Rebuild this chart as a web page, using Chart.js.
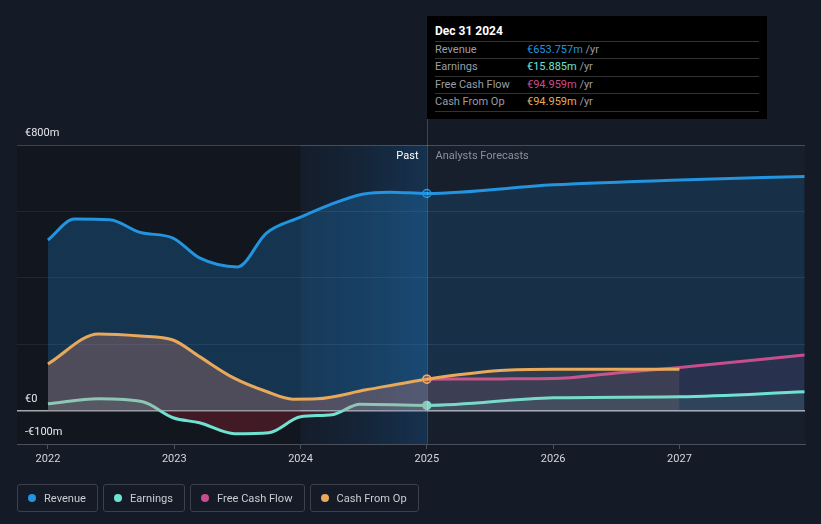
<!DOCTYPE html>
<html>
<head>
<meta charset="utf-8">
<script src="https://cdn.jsdelivr.net/npm/chart.js@4/dist/chart.umd.min.js"></script>
<style>
  html, body { margin: 0; padding: 0; background: #151b26; }
  body { width: 821px; height: 524px; position: relative; overflow: hidden; font-family: Roboto, "Noto Sans", sans-serif; }
  #wrap { position: absolute; left: 0; top: 0; width: 821px; height: 524px; }
  #tip { position: absolute; left: 427px; top: 16px; width: 340px; height: 103px; background: #000; box-sizing: border-box; padding: 8px 8px 0 8px; }
  #tip .title { color: #fff; font-size: 12px; font-weight: bold; height: 17px; line-height: 14px; border-bottom: 1px solid #333; }
  #tip .row { height: 16.4px; line-height: 16.4px; font-size: 11px; color: #9a9ea6; border-bottom: 1px solid #333; position: relative; }
  #tip .row span.v { position: absolute; left: 92px; }
  #tip .row span.u { color: #9a9ea6; }
  #legend { position: absolute; left: 17px; top: 484px; display: flex; gap: 5px; }
  #legend .item { height: 26px; border: 1px solid #3b404b; border-radius: 3px; box-sizing: content-box; padding: 0 11px 0 10px; display: flex; align-items: center; font-size: 11.1px; color: #c9ccd2; }
  #legend .dot { width: 8px; height: 8px; border-radius: 50%; margin-right: 8px; }
</style>
</head>
<body>
<div id="wrap"><canvas id="chart" width="821" height="524"></canvas></div>
<div id="tip">
  <div class="title">Dec 31 2024</div>
  <div class="row">Revenue<span class="v"><span style="color:#2394df">€653.757m</span> <span class="u">/yr</span></span></div>
  <div class="row">Earnings<span class="v"><span style="color:#6fe3d2">€15.885m</span> <span class="u">/yr</span></span></div>
  <div class="row">Free Cash Flow<span class="v"><span style="color:#c84d8c">€94.959m</span> <span class="u">/yr</span></span></div>
  <div class="row">Cash From Op<span class="v"><span style="color:#e8a95a">€94.959m</span> <span class="u">/yr</span></span></div>
</div>
<div id="legend">
  <div class="item"><span class="dot" style="background:#2394df"></span>Revenue</div>
  <div class="item"><span class="dot" style="background:#6fe3d2"></span>Earnings</div>
  <div class="item"><span class="dot" style="background:#c84d8c"></span>Free Cash Flow</div>
  <div class="item"><span class="dot" style="background:#e8a95a"></span>Cash From Op</div>
</div>
<script>
// values in € millions, x in fractional years
const revYears = [2022.0, 2022.21, 2022.49, 2022.73, 2022.99, 2023.2, 2023.5, 2023.73, 2024.0, 2024.23, 2024.49, 2024.71, 2025.0, 2026.0, 2027.0, 2027.99];
const revenue  = [514, 577, 575, 537, 520, 460, 433, 535, 583, 620, 652, 658, 654, 680, 695, 705];

const earnYears = [2022.0, 2022.4, 2022.75, 2022.99, 2023.2, 2023.48, 2023.75, 2024.0, 2024.25, 2024.47, 2025.0, 2026.0, 2027.0, 2027.99];
const earnings  = [21, 36, 27, -21, -36, -69, -66, -18, -12, 20, 16, 39, 42, 57];

const fcfYears = [2025.0, 2025.6, 2026.0, 2026.5, 2027.0, 2027.99];
const freeCashFlow = [95, 96, 97, 114, 130, 168];

const cfoYears = [2022.0, 2022.4, 2022.73, 2022.99, 2023.2, 2023.47, 2023.73, 2023.94, 2024.13, 2024.52, 2025.0, 2025.58, 2026.0, 2027.0];
const cashFromOp = [141, 231, 225, 213, 163, 99, 58, 35, 36, 63, 95, 121, 125, 125];

const yearTicks = [2022, 2023, 2024, 2025, 2026, 2027];
const yTicks = [-100, 0, 200, 400, 600, 800];
const yLabels = { 800: '€800m', 0: '€0', '-100': '-€100m' };

const NOW = 2025;

function pts(xs, ys) { return xs.map((x, i) => ({ x: x, y: ys[i] })); }

// horizontal gradient: stronger colour for the past, weaker for the forecast
function splitFill(past, future) {
  return function (c) {
    const chart = c.chart;
    const area = chart.chartArea;
    if (!area) return future;
    const xs = chart.scales.x;
    const t = Math.min(1, Math.max(0, (xs.getPixelForValue(NOW) - area.left) / (area.right - area.left)));
    const g = chart.ctx.createLinearGradient(area.left, 0, area.right, 0);
    g.addColorStop(0, past);
    g.addColorStop(t, past);
    g.addColorStop(t, future);
    g.addColorStop(1, future);
    return g;
  };
}

function nowDot(c) { return c.raw && c.raw.x === NOW ? 4 : 0; }

const backdrop = {
  id: 'backdrop',
  beforeDatasetsDraw(chart) {
    const { ctx, chartArea: a, scales: { x } } = chart;
    const x24 = x.getPixelForValue(2024), x25 = x.getPixelForValue(NOW);
    ctx.save();
    ctx.fillStyle = 'rgba(0,0,0,0.18)';
    ctx.fillRect(a.left, a.top, x24 - a.left, a.bottom - a.top);
    const g = ctx.createLinearGradient(x24, 0, x25, 0);
    g.addColorStop(0, 'rgba(20,60,100,0.08)');
    g.addColorStop(1, 'rgba(25,95,160,0.35)');
    ctx.fillStyle = g;
    ctx.fillRect(x24, a.top, x25 - x24, a.bottom - a.top);
    ctx.fillStyle = 'rgba(40,60,90,0.12)';
    ctx.fillRect(x25, a.top, a.right - x25, a.bottom - a.top);
    ctx.restore();
  },
  afterDraw(chart) {
    const { ctx, chartArea: a, scales: { x, y } } = chart;
    const x25 = Math.round(x.getPixelForValue(NOW)) + 0.5;
    ctx.save();
    ctx.strokeStyle = 'rgba(255,255,255,0.18)';
    ctx.lineWidth = 1;
    ctx.beginPath();
    ctx.moveTo(x25, 16);
    ctx.lineTo(x25, a.bottom);
    ctx.stroke();
    ctx.font = '11px Roboto, sans-serif';
    ctx.textBaseline = 'middle';
    ctx.fillStyle = '#ffffff';
    ctx.textAlign = 'right';
    ctx.fillText('Past', x25 - 9, a.top + 11);
    ctx.fillStyle = '#8c9099';
    ctx.textAlign = 'left';
    ctx.fillText('Analysts Forecasts', x25 + 8, a.top + 11);
    ctx.fillStyle = '#e6e8ec';
    Object.keys(yLabels).forEach(v => {
      ctx.fillText(yLabels[v], 25, y.getPixelForValue(Number(v)) - 12);
    });
    ctx.restore();
  }
};

const ctx = document.getElementById('chart').getContext('2d');

new Chart(ctx, {
  type: 'line',
  data: {
    datasets: [
      {
        label: 'Cash From Op',
        data: pts(cfoYears, cashFromOp),
        borderColor: '#e8a95a',
        backgroundColor: splitFill('rgba(215,130,115,0.30)', 'rgba(200,150,130,0.12)'),
        fill: 'origin',
        order: 1
      },
      {
        label: 'Earnings',
        data: pts(earnYears, earnings),
        borderColor: '#6fe3d2',
        fill: { target: 'origin', above: 'rgba(110,224,208,0.10)', below: 'rgba(190,35,55,0.28)' },
        order: 2
      },
      {
        label: 'Free Cash Flow',
        data: pts(fcfYears, freeCashFlow),
        borderColor: '#c84d8c',
        backgroundColor: 'rgba(190,75,140,0.10)',
        fill: 'origin',
        order: 3
      },
      {
        label: 'Revenue',
        data: pts(revYears, revenue),
        borderColor: '#2394df',
        backgroundColor: splitFill('rgba(33,140,220,0.26)', 'rgba(33,140,220,0.16)'),
        fill: 'origin',
        order: 4
      }
    ]
  },
  options: {
    responsive: false,
    animation: false,
    layout: { padding: { top: 145, right: 16, left: 0, bottom: 0 } },
    elements: {
      line: { borderWidth: 3, cubicInterpolationMode: 'monotone' },
      point: {
        radius: nowDot,
        hoverRadius: nowDot,
        borderColor: '#ffffff',
        borderWidth: 1.5,
        backgroundColor: c => c.dataset.borderColor
      }
    },
    plugins: {
      legend: { display: false },
      tooltip: { enabled: false }
    },
    scales: {
      x: {
        type: 'linear',
        min: 2021.755,
        max: 2027.994,
        afterFit: s => { s.height = 80; },
        afterBuildTicks: s => { s.ticks = yearTicks.map(v => ({ value: v })); },
        ticks: {
          color: '#d4d7dc',
          font: { family: 'Roboto', size: 11 },
          padding: 4,
          maxRotation: 0,
          callback: v => String(v)
        },
        grid: { drawOnChartArea: false, drawTicks: true, tickLength: 5, color: '#4a505c' },
        border: { display: true, color: '#4a505c' }
      },
      y: {
        min: -100,
        max: 800,
        afterFit: s => { s.width = 17; },
        afterBuildTicks: s => { s.ticks = yTicks.map(v => ({ value: v })); },
        ticks: { display: false },
        grid: {
          drawTicks: false,
          color: c => c.tick.value === 0 ? '#c9ccd2' : (c.tick.value === -100 || c.tick.value === 800 ? '#4a505c' : '#283040'),
          lineWidth: c => c.tick.value === 0 ? 1.5 : 1
        },
        border: { display: false }
      }
    }
  },
  plugins: [backdrop]
});
</script>
</body>
</html>
